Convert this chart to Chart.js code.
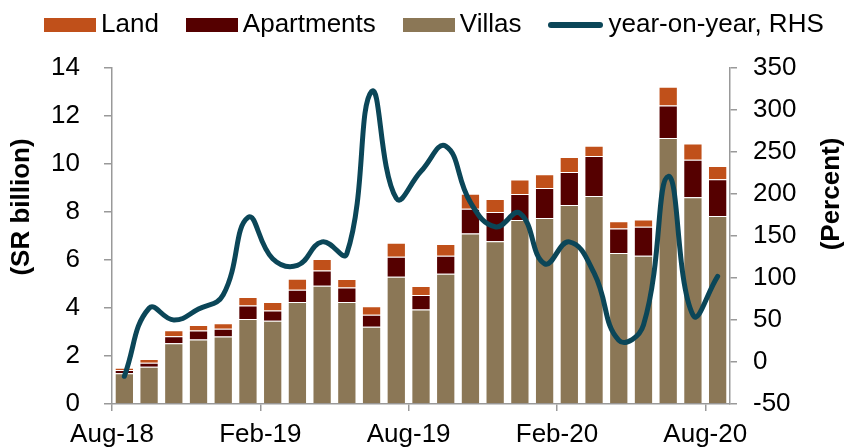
<!DOCTYPE html>
<html>
<head>
<meta charset="utf-8">
<script src="https://cdn.jsdelivr.net/npm/chart.js@4.4.1/dist/chart.umd.min.js"></script>
<style>
  body { margin: 0; background: #fff; }
  #wrap { position: relative; width: 853px; height: 448px; font-family: 'Liberation Sans', Arial, sans-serif; }
  #legend { position: absolute; left: 44px; top: 8px; display: flex; align-items: center; font-size: 26px; color: #000; white-space: nowrap; }
  .item { display: flex; align-items: center; margin-right: 27px; }
  .swatch { width: 52px; height: 14px; margin-right: 5px; position: relative; top: 1px; }
  .lineswatch { width: 55px; height: 6px; border-radius: 3px; margin-right: 5px; position: relative; top: 1px; }
</style>
</head>
<body>
<div id="wrap">
  <canvas id="chart" width="853" height="448"></canvas>
  <div id="legend"></div>
</div>
<script>
// Monthly data, Aug-18 to Aug-20
const months = [
    'Aug-18', 'Sep-18', 'Oct-18', 'Nov-18', 'Dec-18', 'Jan-19', 'Feb-19', 'Mar-19', 'Apr-19',
    'May-19', 'Jun-19', 'Jul-19', 'Aug-19', 'Sep-19', 'Oct-19', 'Nov-19', 'Dec-19', 'Jan-20',
    'Feb-20', 'Mar-20', 'Apr-20', 'May-20', 'Jun-20', 'Jul-20', 'Aug-20'
];

// positions (month index) that get a tick label on the bottom axis
const labelIndexes = [0, 6, 12, 18, 24];

// SR billion
const villas = [1.28, 1.55, 2.53, 2.69, 2.81, 3.54, 3.47, 4.25, 4.93, 4.25, 3.22, 5.30, 3.94,
    5.43, 7.10, 6.78, 7.67, 7.75, 8.29, 8.67, 6.29, 6.18, 11.08, 8.61, 7.83];
const apartments = [0.14, 0.17, 0.29, 0.37, 0.33, 0.56, 0.43, 0.51, 0.63, 0.60, 0.50, 0.84, 0.60,
    0.75, 1.04, 1.22, 1.08, 1.25, 1.38, 1.66, 1.02, 1.21, 1.36, 1.57, 1.53];
const land = [0.09, 0.15, 0.25, 0.23, 0.22, 0.36, 0.35, 0.46, 0.48, 0.36, 0.35, 0.58, 0.38,
    0.49, 0.62, 0.54, 0.60, 0.57, 0.62, 0.43, 0.30, 0.30, 0.78, 0.67, 0.56];

// Percent, right-hand scale
const yoy = [-17, 64, 50, 63, 80, 172, 123, 115, 143, 129, 322, 195, 227, 257, 190, 161, 177,
    117, 143, 106, 26, 44, 221, 56, 102];

const landColor = '#C0501A';
const aptColor = '#550000';
const villaColor = '#8B7756';
const lineColor = '#0B4658';
const axisColor = '#999999';
const fontFamily = "'Liberation Sans', Arial, sans-serif";

// Build the legend as html so the line entry can look like a line
const legendItems = [
    { label: 'Land', color: landColor, line: false },
    { label: 'Apartments', color: aptColor, line: false },
    { label: 'Villas', color: villaColor, line: false },
    { label: 'year-on-year, RHS', color: lineColor, line: true }
];
const legendEl = document.getElementById('legend');
legendItems.forEach(item => {
    const div = document.createElement('div');
    div.className = 'item';
    const sw = document.createElement('span');
    sw.className = item.line ? 'lineswatch' : 'swatch';
    sw.style.background = item.color;
    const txt = document.createElement('span');
    txt.textContent = item.label;
    div.appendChild(sw);
    div.appendChild(txt);
    legendEl.appendChild(div);
});

// Rotated axis titles
const axisTitles = {
    id: 'axisTitles',
    afterDraw(chart) {
        const ctx = chart.ctx;
        ctx.save();
        ctx.font = 'bold 26px ' + fontFamily;
        ctx.fillStyle = '#000';
        ctx.textAlign = 'center';
        ctx.textBaseline = 'middle';
        ctx.translate(22, 207);
        ctx.rotate(-Math.PI / 2);
        ctx.fillText('(SR billion)', 0, 0);
        ctx.restore();
        ctx.save();
        ctx.font = 'bold 26px ' + fontFamily;
        ctx.fillStyle = '#000';
        ctx.textAlign = 'center';
        ctx.textBaseline = 'middle';
        ctx.translate(832, 194);
        ctx.rotate(-Math.PI / 2);
        ctx.fillText('(Percent)', 0, 0);
        ctx.restore();
    }
};

Chart.defaults.font.family = fontFamily;
Chart.defaults.font.size = 26;
Chart.defaults.color = '#000';

const barStyle = {
    type: 'bar',
    order: 1,
    xAxisID: 'x',
    yAxisID: 'y',
    barPercentage: 0.78,
    categoryPercentage: 1,
    borderWidth: 1,
    borderColor: 'rgba(255,255,255,0.45)'
};

new Chart(document.getElementById('chart'), {
    data: {
        labels: months,
        datasets: [
            {
                type: 'line',
                label: 'year-on-year, RHS',
                data: yoy,
                order: 0,
                xAxisID: 'x',
                yAxisID: 'y1',
                borderColor: lineColor,
                borderWidth: 5,
                borderCapStyle: 'round',
                pointRadius: 0,
                tension: 0.45,
                fill: false
            },
            Object.assign({ label: 'Villas', data: villas, backgroundColor: villaColor }, barStyle),
            Object.assign({ label: 'Apartments', data: apartments, backgroundColor: aptColor }, barStyle),
            Object.assign({ label: 'Land', data: land, backgroundColor: landColor }, barStyle)
        ]
    },
    options: {
        responsive: false,
        animation: false,
        devicePixelRatio: 1,
        layout: { padding: { top: 68, left: 0, right: 0, bottom: 0 } },
        plugins: {
            legend: { display: false },
            tooltip: { enabled: false }
        },
        scales: {
            x: {
                type: 'category',
                display: false,
                offset: true,
                stacked: true
            },
            // label axis: ticks sit on the month boundaries, like the original
            x2: {
                type: 'linear',
                axis: 'x',
                position: 'bottom',
                min: 0,
                max: months.length,
                grid: { drawOnChartArea: false, tickLength: 7, color: axisColor, lineWidth: 1.5 },
                border: { color: axisColor, width: 1.5 },
                ticks: {
                    autoSkip: false,
                    maxRotation: 0,
                    padding: 8,
                    callback: v => months[v] || ''
                },
                afterBuildTicks: scale => {
                    scale.ticks = labelIndexes.map(v => ({ value: v }));
                },
                afterFit: scale => { scale.height = 44; }
            },
            y: {
                position: 'left',
                stacked: true,
                min: 0,
                max: 14,
                grid: { drawOnChartArea: false, tickLength: 8, color: axisColor, lineWidth: 1.5 },
                border: { color: axisColor, width: 1.5 },
                ticks: { stepSize: 2, padding: 24 },
                afterFit: scale => { scale.width = 112; }
            },
            y1: {
                position: 'right',
                min: -50,
                max: 350,
                grid: { drawOnChartArea: false, tickLength: 7, color: axisColor, lineWidth: 1.5 },
                border: { color: axisColor, width: 1.5 },
                ticks: { stepSize: 50, padding: 16 },
                afterFit: scale => { scale.width = 123; }
            }
        }
    },
    plugins: [axisTitles]
});
</script>
</body>
</html>
